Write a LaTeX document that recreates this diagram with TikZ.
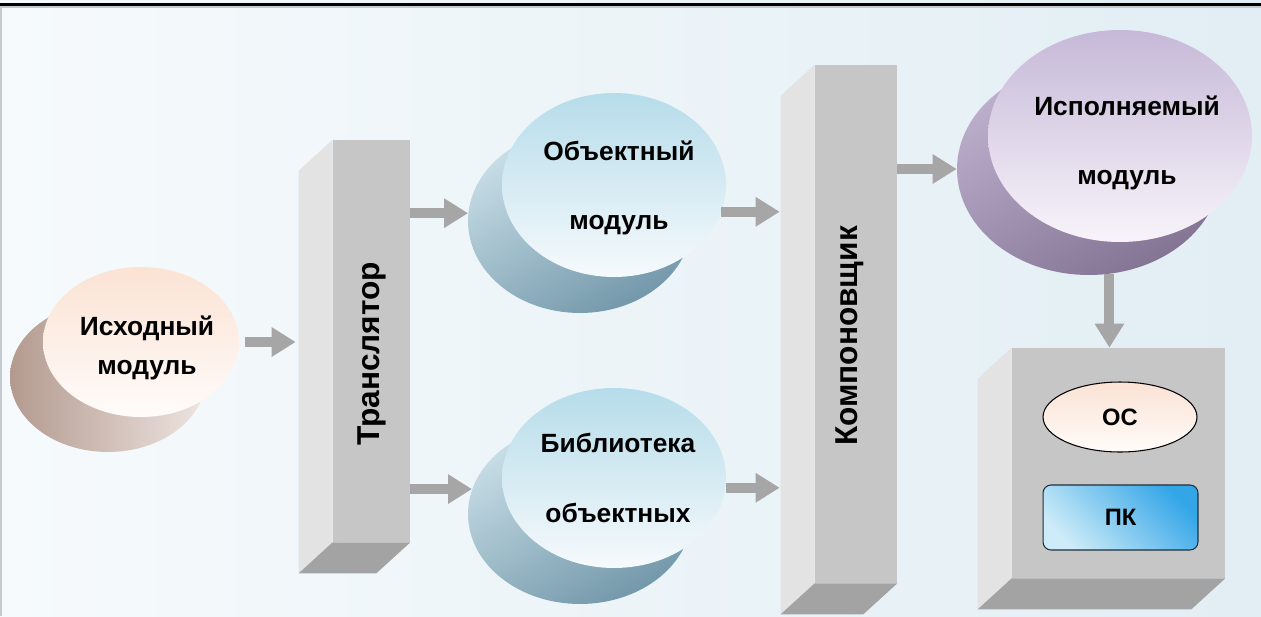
\documentclass[tikz,border=0pt]{standalone}
\usepackage{fontspec}
\setmainfont{Liberation Sans}
\usetikzlibrary{arrows.meta,shapes.geometric}
\definecolor{bldArrow}{HTML}{A6A6A6}
\definecolor{bldBgLeft}{HTML}{F6FAFC}
\definecolor{bldBgRight}{HTML}{E2EEF4}
\definecolor{bldRule}{HTML}{C4CACD}
\definecolor{bldFace}{HTML}{C6C6C6}
\definecolor{bldSide}{HTML}{E3E3E3}
\definecolor{bldBottom}{HTML}{A3A3A3}
\definecolor{bldPeach}{HTML}{FBE2D4}
\definecolor{bldPeachTop}{HTML}{FFFCFA}
\definecolor{bldTaupe}{HTML}{B39A8F}
\definecolor{bldTaupeLight}{HTML}{EEE5E1}
\definecolor{bldSky}{HTML}{B6DCEA}
\definecolor{bldSkyLight}{HTML}{F6FAFC}
\definecolor{bldSteel}{HTML}{7398AA}
\definecolor{bldSteelLight}{HTML}{C8DEE7}
\definecolor{bldLilac}{HTML}{C6B9D8}
\definecolor{bldLilacLight}{HTML}{F8F4FA}
\definecolor{bldPlum}{HTML}{847494}
\definecolor{bldPlumLight}{HTML}{BDB0CD}
\definecolor{bldBlue}{HTML}{34A6E8}
\definecolor{bldBlueLight}{HTML}{CDEBF8}
\definecolor{bldInk}{HTML}{1F2F3A}
\tikzset{
  bld flow/.style={draw=bldArrow, line width=0.2cm, -{Triangle[width=0.56cm,length=0.48cm]}},
  bld back/.style={ellipse, inner sep=0pt},
  bld front/.style={ellipse, inner sep=0pt},
  bld module label/.style={align=center, inner sep=0pt, font=\fontsize{15}{18}\selectfont\bfseries},
  bld face/.style={rectangle, inner sep=0pt, fill=bldFace},
  bld side/.style={fill=bldSide},
  bld bottom/.style={fill=bldBottom},
  bld box label/.style={font=\fontsize{18}{21}\selectfont\bfseries, rotate=90},
  bld part label/.style={font=\fontsize{13.5}{16}\selectfont\bfseries, inner sep=0pt},
}

\begin{document}
\begin{tikzpicture}[x=0.02cm, y=-0.02cm]
  \useasboundingbox (0,0) rectangle (1261,616);
  \fill[left color=bldBgLeft, right color=bldBgRight] (0,0) rectangle (1261,616);
  \draw[black, line width=1.2pt] (0,4.5) -- (1261,4.5);
  \draw[bldRule, line width=0.6pt] (0,7) -- (1261,7);
  \draw[bldRule, line width=0.6pt] (1,7) -- (1,616);

  % Modules: shadow ellipse behind, face in front
  \node[bld back, minimum width=3.92cm, minimum height=3cm, left color=bldTaupe, right color=bldTaupeLight] (srcback) at (108,377) {};
  \node[bld front, minimum width=3.92cm, minimum height=3cm, top color=bldPeach, bottom color=bldPeachTop] (src) at (141,342) {};
  \node[bld module label] (src text) at ([shift={(6,6)}]src.center) {Исходный\\[4pt]модуль};

  \node[bld back, minimum width=4.48cm, minimum height=3.68cm, top color=bldSteelLight, bottom color=bldSteel, shading angle=30] (objback) at (580,221) {};
  \node[bld front, minimum width=4.48cm, minimum height=3.68cm, top color=bldSky, bottom color=bldSkyLight] (obj) at (614,185) {};
  \node[bld module label] (obj text) at ([shift={(5,3)}]obj.center) {Объектный\\[21.7pt]модуль};

  \node[bld back, minimum width=4.48cm, minimum height=3.6cm, top color=bldSteelLight, bottom color=bldSteel, shading angle=30] (libback) at (580,514) {};
  \node[bld front, minimum width=4.48cm, minimum height=3.6cm, top color=bldSky, bottom color=bldSkyLight] (lib) at (614,478) {};
  \node[bld module label] (lib text) at ([shift={(4,0)}]lib.center) {Библиотека\\[21.7pt]объектных};

  \node[bld back, minimum width=5.28cm, minimum height=4.24cm, top color=bldPlumLight, bottom color=bldPlum, shading angle=30] (execback) at (1089,169) {};
  \node[bld front, minimum width=5.28cm, minimum height=4.24cm, top color=bldLilac, bottom color=bldLilacLight] (exec) at (1120,136) {};
  \node[bld module label] (exec text) at ([shift={(7,7)}]exec.center) {Исполняемый\\[21.7pt]модуль};

  % Boxes
  \node[bld face, minimum width=1.54cm, minimum height=8.04cm] (trans) at (371.5,341) {};
  \node[bld face, minimum width=1.64cm, minimum height=10.36cm] (link) at (856,324) {};
  \node[bld face, minimum width=4.26cm, minimum height=4.6cm] (host) at (1118.5,463) {};
  \foreach \b in {trans,link,host} {
    \fill[bld side] (\b.north west) -- ++(-34,31) -- ([shift={(-34,31)}]\b.south west) -- (\b.south west) -- cycle;
    \fill[bld bottom] (\b.south west) -- (\b.south east) -- ++(-34,31) -- ([shift={(-34,31)}]\b.south west) -- cycle;
  }
  \node[bld box label] (trans text) at ([shift={(0,13)}]trans.center) {Транслятор};
  \node[bld box label] (link text) at ([shift={(-6,12)}]link.center) {Компоновщик};

  \node[ellipse, draw=black, line width=0.6pt, minimum width=3.08cm, minimum height=1.4cm, top color=bldPeach, bottom color=bldPeachTop, bld part label] (os) at (1120,417) {ОС};
  \node[rectangle, rounded corners=0.16cm, draw=bldInk, line width=0.6pt, minimum width=3.1cm, minimum height=1.3cm, top color=bldBlue, bottom color=bldBlueLight, shading angle=-45, bld part label] (pc) at (1120.5,517.5) {ПК};

  % Flow
  \draw[bld flow, shorten <=0.12cm, shorten >=0.74cm] (src.east) -- (src.east -| trans.west);
  \draw[bld flow] (objback.176 -| trans.east) -- (objback.176);
  \draw[bld flow] (libback.167 -| trans.east) -- (libback.167);
  \draw[bld flow, shorten >=0.7cm] (obj.346) -- (obj.346 -| link.west);
  \draw[bld flow, shorten >=0.7cm] (lib.355) -- (lib.355 -| link.west);
  \draw[bld flow] (execback.west -| link.east) -- (execback.west);
  \draw[bld flow] (execback.281) -- (execback.281 |- host.north);
\end{tikzpicture}
\end{document}
